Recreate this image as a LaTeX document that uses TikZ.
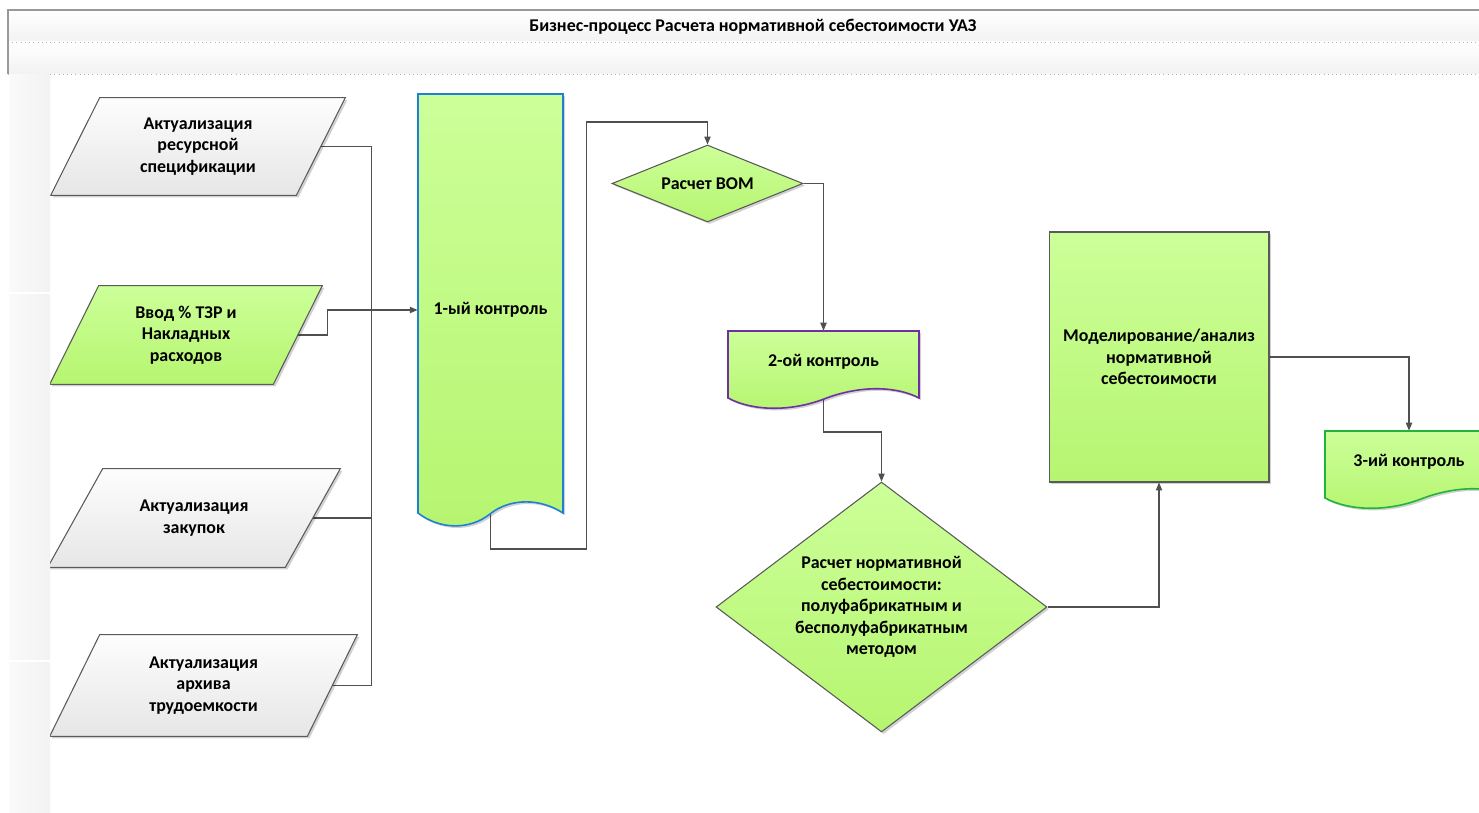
\documentclass[tikz,border=0pt]{standalone}
\usepackage{fontspec}
\setmainfont{Carlito}
\usetikzlibrary{shapes.geometric,arrows.meta,shadows,calc}

\definecolor{greentop}{HTML}{CCFF99}
\definecolor{greenbot}{HTML}{B6F570}
\definecolor{greytop}{HTML}{FDFDFD}
\definecolor{greybot}{HTML}{E6E6E6}
\definecolor{edge}{HTML}{595959}
\definecolor{wire}{HTML}{505050}
\definecolor{blueedge}{HTML}{1F7FD6}
\definecolor{purpleedge}{HTML}{7030A0}
\definecolor{greenedge}{HTML}{21B33A}

\pgfdeclarelayer{wires}
\pgfdeclarelayer{shapes}
\pgfsetlayers{wires,shapes,main}

\tikzset{
  basic/.style={font=\bfseries\fontsize{10.2}{12.2}\selectfont, align=center, inner sep=0pt},
  softshadow/.style={drop shadow={shadow xshift=1.2pt, shadow yshift=-1.2pt, opacity=0.18, fill=black}},
  greyfill/.style={draw=edge, line width=0.6pt, top color=greytop, bottom color=greybot, softshadow},
  greenfill/.style={greyfill, top color=greentop, bottom color=greenbot},
  decision/.style={basic, diamond, draw=edge, line width=0.6pt,
    top color=greentop, bottom color=greenbot, softshadow},
  process/.style={basic, rectangle, draw=edge, line width=0.6pt,
    top color=greentop, bottom color=greenbot, softshadow},
  textbox/.style={basic, rectangle},
  docfill/.style={top color=greentop, bottom color=greenbot, line width=0.9pt, softshadow},
  link/.style={draw=wire, line width=0.6pt},
  arrow/.style={link, -{Triangle[length=4.5pt,width=3.6pt]}},
}

% параллелограмм вокруг узла: #1 узел, #2 сдвиг, #3 стиль
\newcommand{\paral}[3]{%
  \path[#3] ($(#1.north west)+(#2,0)$) -- ($(#1.north east)+(#2,0)$)
    -- ($(#1.south east)+(-#2,0)$) -- ($(#1.south west)+(-#2,0)$) -- cycle;}

\begin{document}
\begin{tikzpicture}[x=0.02cm, y=-0.02cm]
\useasboundingbox (0,0) rectangle (1479,813);
\clip (0,0) rectangle (1479,813);

% шапка с заголовком
\fill[top color=white, bottom color=gray!10] (8,10) rectangle (1490,42);
\fill[top color=white, bottom color=gray!10] (8,42) rectangle (1490,74);
\draw[gray!60, dotted] (8,42) -- (1490,42);
\draw[gray!60, dotted] (8,74) -- (1490,74);
\draw[gray!80, line width=1pt] (8,74) |- (1490,10);
\node[basic] (title) at (753,27) {Бизнес-процесс Расчета нормативной себестоимости УАЗ};

% левая полоса
\fill[left color=gray!4, right color=gray!10] (9,75) rectangle (50,813);
\draw[white, line width=1pt] (9,293) -- (50,293);
\draw[white, line width=1pt] (9,661) -- (50,661);

% входные данные
\node[textbox, minimum width=4.9cm, minimum height=1.94cm] (p1) at (198,146.5)
  {Актуализация\\ресурсной\\спецификации};
\node[textbox, minimum width=4.46cm, minimum height=1.96cm] (p2) at (186,335)
  {Ввод \% ТЗР и\\Накладных\\расходов};
\node[textbox, minimum width=4.74cm, minimum height=1.96cm] (p3) at (194,518)
  {Актуализация\\закупок};
\node[textbox, minimum width=5.14cm, minimum height=2.02cm] (p4) at (203.5,685.5)
  {Актуализация\\архива\\трудоемкости};
\begin{pgfonlayer}{shapes}
\paral{p1}{24.5}{greyfill}
\paral{p2}{24.5}{greenfill}
\paral{p3}{27.5}{greyfill}
\paral{p4}{25}{greyfill}
\end{pgfonlayer}

% 1-ый контроль
\path[docfill, draw=blueedge] (418,94) -- (563,94) -- (563,513)
  .. controls (540,498) and (510,498) .. (490,514)
  .. controls (470,530) and (440,530) .. (418,513) -- cycle;
\node[textbox, minimum width=2.9cm, minimum height=8.56cm] (k1) at (490.5,310) {1-ый контроль};

% расчет BOM
\node[decision, shape aspect=2.5, minimum width=3.82cm, minimum height=1.54cm] (bom) at (707.5,183.5)
  {Расчет BOM};

% 2-ой контроль
\path[docfill, draw=purpleedge] (728,331) -- (919,331) -- (919,398)
  .. controls (896,386) and (860,385) .. (824,399)
  .. controls (790,412) and (752,411) .. (728,398) -- cycle;
\node[textbox, minimum width=3.82cm, minimum height=1.24cm] (k2) at (823.5,362) {2-ой контроль};

% расчет нормативной себестоимости
\node[decision, shape aspect=1.32, minimum width=6.62cm, minimum height=5cm] (calc) at (881.5,607)
  {Расчет нормативной\\себестоимости:\\полуфабрикатным и\\бесполуфабрикатным\\методом};

% моделирование
\node[process, minimum width=4.4cm, minimum height=5cm] (model) at (1159,357)
  {Моделирование/анализ\\нормативной\\себестоимости};

% 3-ий контроль
\path[docfill, draw=greenedge] (1325,431) -- (1516,431) -- (1516,498)
  .. controls (1493,486) and (1457,485) .. (1421,499)
  .. controls (1387,512) and (1349,511) .. (1325,498) -- cycle;
\node[textbox, minimum width=3.36cm, minimum height=1.24cm] (k3) at (1409,462) {3-ий контроль};

% связи
\begin{pgfonlayer}{wires}
\coordinate (bus) at ($(k1.west)+(-46,0)$);
\draw[link] (p1.east) -| (bus);
\draw[link] (p3.east) -| (bus);
\draw[link] (p4.east) -| (bus);
\draw[arrow] (p2.east) -- ++(30,0) |- (k1.west);
\draw[arrow] (k1.center) -- ++(0,239) -| ++(96,-427) -| (bom.north);
\draw[arrow] (bom.east) -| (k2.north);
\draw[arrow] (k2.center) -- ++(0,70) -| (calc.north);
\draw[arrow] (calc.east) -| (model.south);
\draw[arrow] (model.east) -| (k3.north);
\end{pgfonlayer}

\end{tikzpicture}
\end{document}
